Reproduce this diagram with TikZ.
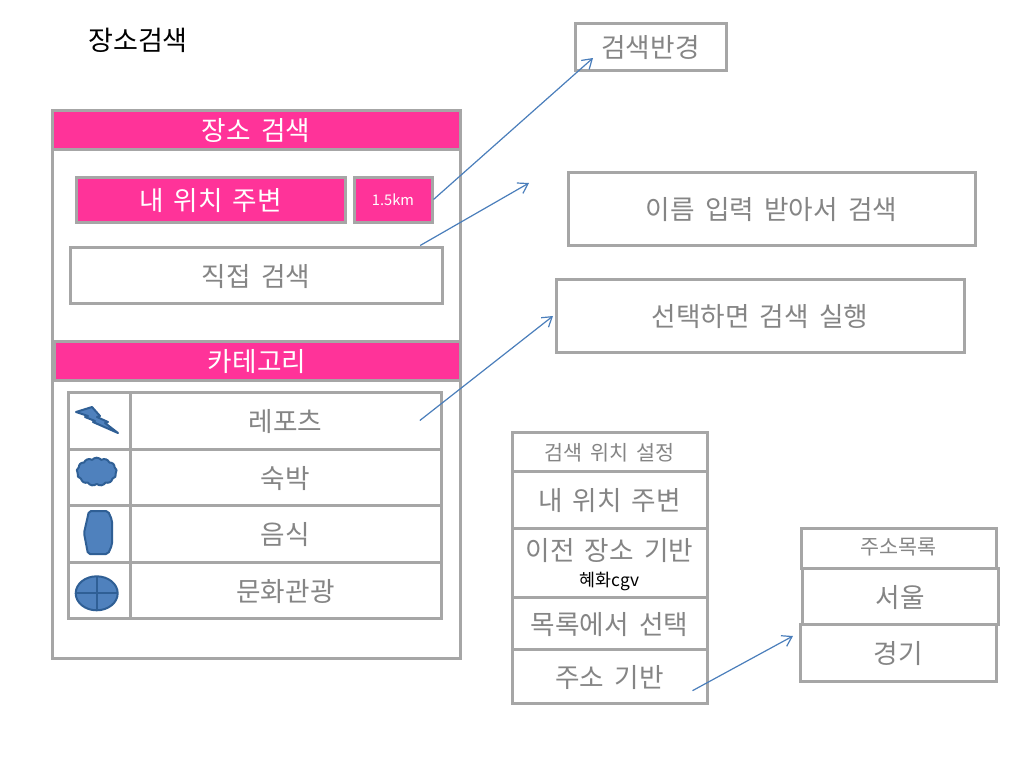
\documentclass[tikz,border=0pt]{standalone}
\usepackage{fontspec}
\setmainfont[WordSpace=1.7]{Noto Sans CJK KR}
\usetikzlibrary{arrows.meta,shapes.symbols}
\definecolor{linegray}{HTML}{A6A6A6}
\definecolor{textgray}{HTML}{858585}
\definecolor{hotpink}{HTML}{FF3399}
\definecolor{arrowblue}{HTML}{4A7EBB}
\definecolor{iconfill}{HTML}{4F81BD}
\definecolor{iconline}{HTML}{2F5F95}
\tikzset{
  boxsize/.style 2 args={minimum width=#1*0.75pt, minimum height=#2*0.75pt},
  graybox/.style={draw=linegray, line width=2.25pt, fill=white, inner sep=0pt, text=textgray, text height=16.5pt, text depth=0pt, font=\fontsize{20}{25}\selectfont},
  pinkbox/.style={graybox, fill=hotpink, text=white},
  smallbox/.style={graybox, text height=13.5pt, font=\fontsize{15.5}{20}\selectfont},
  pointer/.style={draw=arrowblue, line width=0.9pt, -{Straight Barb[length=7pt,width=9pt]}},
  iconshape/.style={fill=iconfill, draw=iconline, line width=1.5pt, line join=round},
}
\begin{document}
\begin{tikzpicture}[x=0.75pt, y=-0.75pt]
    \useasboundingbox (0,0) rectangle (1024,768);

    % Page title
    \node[font=\fontsize{20.3}{24}\selectfont] (pagetitle) at (138,40) {장소검색};

    % Main panel
    \node[graybox, boxsize={408}{548}] (panel) at (256,384) {};
    \node[pinkbox, boxsize={408}{39}] (searchhead) at (256,129.5) {장소 검색};
    \node[pinkbox, boxsize={269}{45}] (nearby) at (210.5,199.5) {내 위치 주변};
    \node[pinkbox, boxsize={78}{45}, text height=9pt, font=\fontsize{11}{13}\selectfont] (km) at (393,199.5) {1.5km};
    \node[graybox, boxsize={372}{56}] (direct) at (256,275) {직접 검색};
    \node[pinkbox, boxsize={406}{39}] (cathead) at (257,360.5) {카테고리};

    % Category rows
    \node[graybox, boxsize={62}{57}] (iconA) at (99,420.5) {};
    \node[graybox, boxsize={311}{57}] (resort) at (285.5,420.5) {레포츠};
    \node[graybox, boxsize={62}{56}] (iconB) at (99,477) {};
    \node[graybox, boxsize={311}{56}] (stay) at (285.5,477) {숙박};
    \node[graybox, boxsize={62}{57}] (iconC) at (99,533.5) {};
    \node[graybox, boxsize={311}{57}] (food) at (285.5,533.5) {음식};
    \node[graybox, boxsize={62}{56}] (iconD) at (99,590) {};
    \node[graybox, boxsize={311}{56}] (culture) at (285.5,590) {문화관광};

    % Icons
    \draw[iconshape] (76,412) -- (92,407) -- (100,416) -- (97,417) -- (108,422) -- (105,423) -- (118,433) -- (93,422) -- (95,421) -- (85,417) -- (88,416) -- cycle;
    \node[iconshape, cloud, cloud puffs=13, cloud puff arc=100, aspect=1.4, inner sep=0pt, minimum width=30pt, minimum height=21pt] (iconcloud) at (96.7,471.7) {};
    \draw[iconshape, rounded corners=1.5pt] (89,511) -- (108,511) -- (112,520) -- (112,545) -- (108,554) -- (88,554) -- (84,533) -- cycle;
    \draw[iconshape] (96.7,593.3) ellipse (21 and 17);
    \draw[iconline, line width=1.5pt] (75.7,593.3) -- (117.7,593.3) (96.7,576.3) -- (96.7,610.3);

    % Notes on the right
    \node[graybox, boxsize={151}{47}] (radius) at (650.5,46.5) {검색반경};
    \node[graybox, boxsize={407}{73}] (nameinput) at (771.5,208.5) {이름 입력 받아서 검색};
    \node[graybox, boxsize={408}{73}] (runsearch) at (760,315.5) {선택하면 검색 실행};

    % Search position list
    \node[smallbox, boxsize={195}{39}] (poshead) at (609.5,451.5) {검색 위치 설정};
    \node[graybox, boxsize={195}{57}] (posnear) at (609.5,499.5) {내 위치 주변};
    \node[graybox, boxsize={195}{69}] (posprev) at (609.5,562.5) {};
    \node[text=textgray, inner sep=0pt, text height=16.5pt, text depth=0pt, font=\fontsize{20}{25}\selectfont] (prevlabel) at (609.5,549) {이전 장소 기반};
    \node[inner sep=0pt, font=\fontsize{13}{15}\selectfont] (prevnote) at (609.5,581) {혜화cgv};
    \node[graybox, boxsize={195}{52}] (poslist) at (609.5,623) {목록에서 선택};
    \node[graybox, boxsize={195}{54}] (posaddr) at (609.5,676) {주소 기반};

    % Address list
    \node[smallbox, boxsize={195}{40}, text height=10pt] (addrhead) at (898.5,548) {주소목록};
    \node[graybox, boxsize={196}{56}] (seoul) at (900,596) {서울};
    \node[graybox, boxsize={196}{57}] (gyeonggi) at (898,652.5) {경기};

    % Arrow ends
    \coordinate (radiusend) at (593,58);
    \coordinate (nameend) at (529,183);
    \coordinate (runend) at (553,316);
    \coordinate (addrend) at (793,636);

    \draw[pointer] (km.east) -- (radiusend);
    \draw[pointer] ([xshift=-17.5pt]direct.north east) -- (nameend);
    \draw[pointer] ([xshift=-17pt]resort.east) -- (runend);
    \draw[pointer] ([xshift=-12pt,yshift=-11pt]posaddr.east) -- (addrend);
\end{tikzpicture}
\end{document}
